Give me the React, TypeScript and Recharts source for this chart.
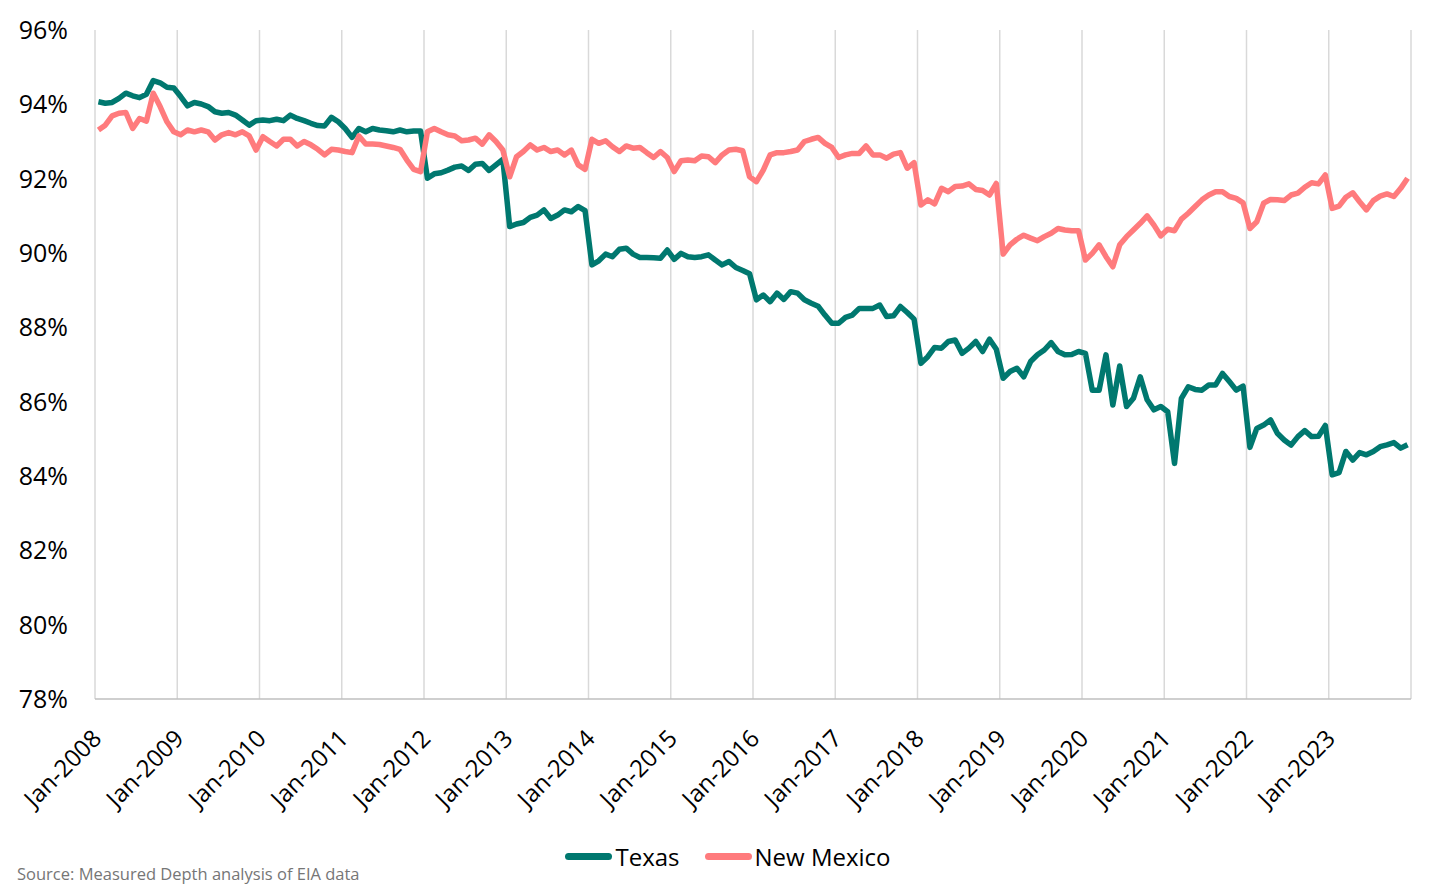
import { LineChart, Line, XAxis, YAxis, CartesianGrid, Legend } from 'recharts'

// monthly share, Jan-2008 .. Dec-2023
const texas = [
  94.07, 94.03, 94.05, 94.16, 94.3, 94.23, 94.18, 94.27, 94.64, 94.58, 94.46, 94.44,
  94.21, 93.96, 94.05, 94.01, 93.94, 93.8, 93.76, 93.78, 93.71, 93.58, 93.44, 93.56,
  93.58, 93.56, 93.6, 93.56, 93.71, 93.62, 93.56, 93.49, 93.43, 93.42, 93.65, 93.53,
  93.35, 93.11, 93.35, 93.26, 93.35, 93.31, 93.29, 93.26, 93.31, 93.26, 93.28, 93.28,
  92.01, 92.13, 92.16, 92.23, 92.31, 92.34, 92.22, 92.39, 92.41, 92.22, 92.37, 92.52,
  90.71, 90.78, 90.82, 90.96, 91.02, 91.16, 90.93, 91.02, 91.16, 91.11, 91.25, 91.14,
  89.68, 89.79, 89.97, 89.9, 90.1, 90.13, 89.97, 89.88, 89.88, 89.87, 89.86, 90.08,
  89.83, 89.99, 89.9, 89.88, 89.9, 89.95, 89.81, 89.68, 89.77, 89.61, 89.53, 89.44,
  88.74, 88.87, 88.69, 88.92, 88.75, 88.96, 88.92, 88.74, 88.65, 88.57, 88.33, 88.11,
  88.11, 88.27, 88.33, 88.51, 88.51, 88.51, 88.6, 88.29, 88.31, 88.56, 88.4, 88.22,
  87.03, 87.21, 87.46, 87.44, 87.62, 87.66, 87.3, 87.44, 87.62, 87.35, 87.68, 87.41,
  86.63, 86.81, 86.9, 86.67, 87.08, 87.26, 87.39, 87.59, 87.35, 87.26, 87.27, 87.35,
  87.3, 86.31, 86.31, 87.26, 85.91, 86.96, 85.87, 86.09, 86.67, 86.05, 85.78, 85.87,
  85.73, 84.34, 86.09, 86.4, 86.33, 86.31, 86.45, 86.45, 86.76, 86.54, 86.31, 86.42,
  84.77, 85.28, 85.37, 85.51, 85.15, 84.97, 84.83, 85.06, 85.22, 85.06, 85.07, 85.36,
  84.03, 84.09, 84.66, 84.43, 84.63, 84.57, 84.66, 84.79, 84.84, 84.9, 84.75, 84.84,
]

const newMexico = [
  93.31, 93.44, 93.69, 93.76, 93.78, 93.35, 93.62, 93.55, 94.3, 93.94, 93.53, 93.26,
  93.18, 93.31, 93.26, 93.31, 93.26, 93.04, 93.18, 93.24, 93.18, 93.26, 93.15, 92.77,
  93.13, 93.0, 92.88, 93.06, 93.06, 92.88, 93.0, 92.91, 92.79, 92.64, 92.79, 92.77,
  92.73, 92.7, 93.15, 92.93, 92.93, 92.92, 92.88, 92.84, 92.79, 92.5, 92.25, 92.19,
  93.26, 93.35, 93.26, 93.18, 93.15, 93.02, 93.04, 93.09, 92.93, 93.18, 93.0, 92.77,
  92.05, 92.59, 92.73, 92.91, 92.77, 92.84, 92.73, 92.77, 92.64, 92.77, 92.37, 92.25,
  93.06, 92.95, 93.02, 92.86, 92.73, 92.88, 92.82, 92.84, 92.7, 92.57, 92.73, 92.57,
  92.19, 92.48, 92.5, 92.48, 92.61, 92.59, 92.43, 92.64, 92.77, 92.79, 92.75, 92.05,
  91.92, 92.23, 92.64, 92.7, 92.7, 92.73, 92.77, 93.0, 93.06, 93.11, 92.95, 92.84,
  92.57, 92.64, 92.68, 92.68, 92.88, 92.64, 92.64, 92.55, 92.66, 92.7, 92.28, 92.43,
  91.29, 91.43, 91.32, 91.74, 91.65, 91.79, 91.8, 91.86, 91.71, 91.68, 91.56, 91.87,
  89.97, 90.22, 90.37, 90.48, 90.4, 90.33, 90.44, 90.53, 90.66, 90.62, 90.6, 90.6,
  89.81, 89.99, 90.22, 89.9, 89.63, 90.22, 90.44, 90.62, 90.8, 91.0, 90.75, 90.46,
  90.64, 90.6, 90.91, 91.07, 91.25, 91.43, 91.56, 91.65, 91.65, 91.52, 91.47, 91.35,
  90.66, 90.84, 91.34, 91.44, 91.43, 91.41, 91.56, 91.61, 91.77, 91.89, 91.86, 92.1,
  91.2, 91.26, 91.5, 91.62, 91.38, 91.16, 91.41, 91.53, 91.59, 91.52, 91.74, 92.01,
]

const tickLabels = [
  'Jan-2008', 'Jan-2009', 'Jan-2010', 'Jan-2011', 'Jan-2012', 'Jan-2013', 'Jan-2014', 'Jan-2015',
  'Jan-2016', 'Jan-2017', 'Jan-2018', 'Jan-2019', 'Jan-2020', 'Jan-2021', 'Jan-2022', 'Jan-2023',
]

const yTicks = [78, 80, 82, 84, 86, 88, 90, 92, 94, 96]

const SERIES = [
  { key: 'texas', name: 'Texas', color: '#00786f' },
  { key: 'newMexico', name: 'New Mexico', color: '#ff7b7d' },
]

// month i sits in the middle of its slot, year ticks on the slot edges
const data = texas.map((v, i) => ({ t: i + 0.5, texas: v, newMexico: newMexico[i] }))
const xTicks = [...tickLabels.map((_, i) => i * 12), tickLabels.length * 12]

const FONT = '"Open Sans", "Noto Sans", sans-serif'

function XTick({ x, y, payload }: any) {
  const label = tickLabels[payload.value / 12] ?? ''
  const ax = x + 8
  const ay = y + 41
  return (
    <text x={ax} y={ay} textAnchor="end" fontSize={24} fill="#000" transform={`rotate(-45 ${ax} ${ay})`}>
      {label}
    </text>
  )
}

function LegendContent() {
  return (
    <div style={{ display: 'flex', justifyContent: 'center', alignItems: 'center', height: 40, fontSize: 24, color: '#000' }}>
      {SERIES.map((s, i) => (
        <div key={s.key} style={{ display: 'flex', alignItems: 'center', marginLeft: i ? 25 : 0 }}>
          <span style={{ display: 'inline-block', width: 47, height: 7, borderRadius: 4, background: s.color, marginRight: 3 }} />
          <span>{s.name}</span>
        </div>
      ))}
    </div>
  )
}

export default function App() {
  return (
    <div style={{ position: 'relative', width: 1440, height: 880, fontFamily: FONT }}>
      <LineChart width={1440} height={880} data={data} margin={{ top: 22, right: 37, left: 7, bottom: 49 }}>
        <CartesianGrid horizontal={false} stroke="#d9d9d9" strokeWidth={1.5} />
        <XAxis
          dataKey="t"
          type="number"
          domain={[0, 192]}
          ticks={xTicks}
          interval={0}
          height={100}
          tickSize={0}
          tickMargin={0}
          tick={<XTick />}
          axisLine={{ stroke: '#bfbfbf', strokeWidth: 1.5 }}
        />
        <YAxis
          domain={[78, 96]}
          ticks={yTicks}
          interval={0}
          width={80}
          tickSize={0}
          tickMargin={27}
          axisLine={false}
          tickLine={false}
          tick={{ fontSize: 25, fill: '#000' }}
          tickFormatter={(v: number) => `${v}%`}
        />
        <Legend
          verticalAlign="bottom"
          content={<LegendContent />}
          wrapperStyle={{ top: 828, bottom: 'auto', left: 0, width: 1440, height: 40 }}
        />
        {SERIES.map((s) => (
          <Line
            key={s.key}
            dataKey={s.key}
            name={s.name}
            type="linear"
            stroke={s.color}
            strokeWidth={5.5}
            strokeLinejoin="round"
            dot={false}
            activeDot={false}
            isAnimationActive={false}
          />
        ))}
      </LineChart>
      <div style={{ position: 'absolute', left: 9, top: 858, fontSize: 16.5, lineHeight: 1, color: '#767676' }}>
        Source: Measured Depth analysis of EIA data
      </div>
    </div>
  )
}
